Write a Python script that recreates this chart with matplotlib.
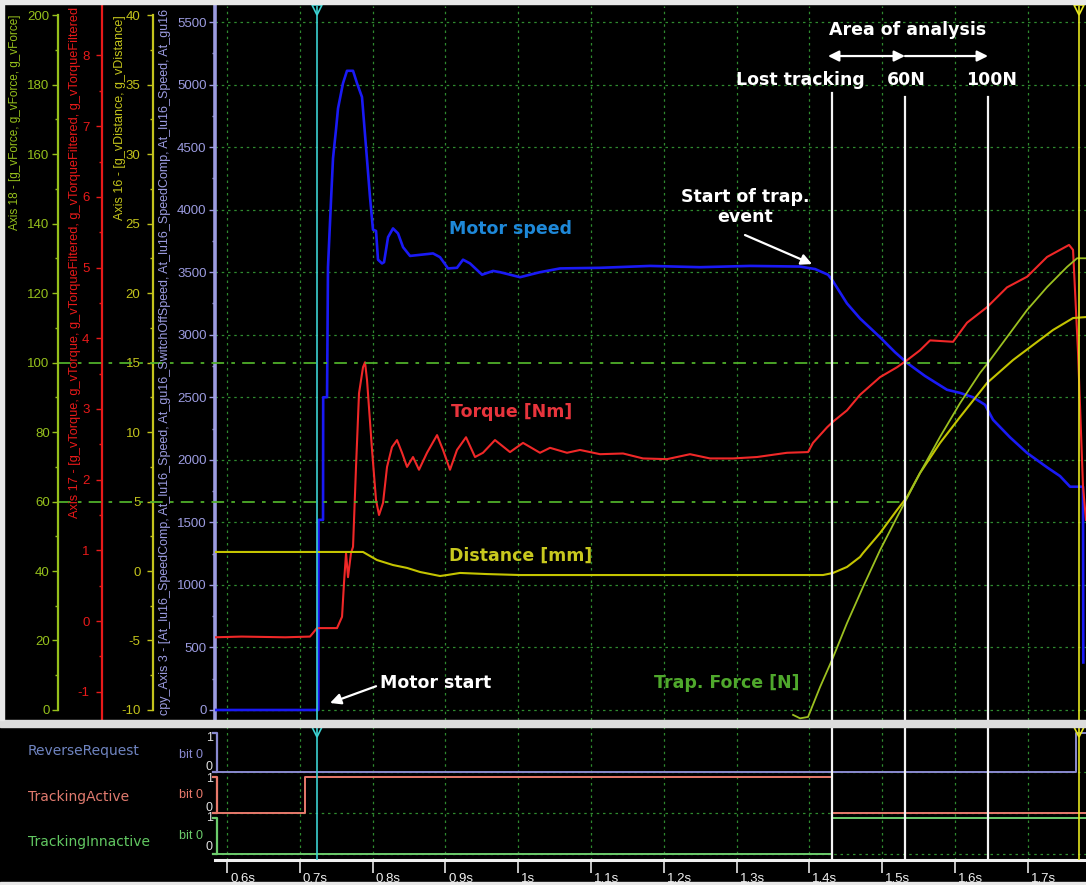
import matplotlib
matplotlib.use('Agg')
import matplotlib.pyplot as plt
import matplotlib.transforms as mtrans
from matplotlib.ticker import FixedLocator
from matplotlib.patches import Rectangle
from matplotlib.lines import Line2D

plt.rcParams['axes.unicode_minus'] = False

# ---------------- data ----------------
speed_t = [0.5835, 0.7255, 0.7257, 0.7319, 0.7321, 0.7374, 0.7387, 0.7429, 0.7456, 0.7497,
           0.7525, 0.7593, 0.7648, 0.7731, 0.7786, 0.7854, 0.7868, 0.7923, 0.7964, 0.8005,
           0.8047, 0.8074, 0.8129, 0.8157, 0.8212, 0.8280, 0.8349, 0.8418, 0.8514, 0.8830,
           0.8926, 0.9036, 0.9159, 0.9242, 0.9338, 0.9503, 0.9654, 0.9750, 1.0025, 1.0299,
           1.0574, 1.1124, 1.1810, 1.2497, 1.3184, 1.3871, 1.4077, 1.4255, 1.4310, 1.4516,
           1.4695, 1.4970, 1.5176, 1.5341, 1.5588, 1.5890, 1.6069, 1.6247, 1.6412, 1.6522,
           1.6755, 1.6989, 1.7264, 1.7442, 1.7580, 1.7717, 1.7758, 1.7762]
speed_v = [0, 0, 1520, 1520, 2500, 2500, 3540, 4080, 4410, 4640,
           4810, 5010, 5110, 5110, 5010, 4900, 4800, 4400, 4100, 3840,
           3830, 3600, 3570, 3580, 3780, 3850, 3810, 3700, 3630, 3650,
           3620, 3530, 3535, 3600, 3570, 3480, 3510, 3500, 3460, 3500,
           3530, 3535, 3550, 3540, 3550, 3545, 3525, 3480, 3440, 3250,
           3130, 2980, 2860, 2775, 2670, 2560, 2535, 2500, 2440, 2320,
           2180, 2055, 1940, 1870, 1785, 1785, 1785, 380]

torque_t = [0.5835, 0.6200, 0.6800, 0.7140, 0.7236, 0.7277, 0.7511, 0.7580, 0.7607, 0.7635,
            0.7662, 0.7703, 0.7731, 0.7772, 0.7813, 0.7868, 0.7896, 0.7923, 0.7992, 0.8047,
            0.8088, 0.8143, 0.8198, 0.8266, 0.8335, 0.8404, 0.8473, 0.8555, 0.8637, 0.8747,
            0.8885, 0.8967, 0.9063, 0.9159, 0.9283, 0.9407, 0.9516, 0.9681, 0.9887, 1.0066,
            1.0299, 1.0437, 1.0670, 1.0849, 1.1124, 1.1440, 1.1714, 1.2044, 1.2360, 1.2635,
            1.2951, 1.3280, 1.3692, 1.3981, 1.4049, 1.4242, 1.4324, 1.4516, 1.4695, 1.4970,
            1.5203, 1.5341, 1.5519, 1.5657, 1.5973, 1.6165, 1.6440, 1.6714, 1.6989, 1.7264,
            1.7566, 1.7621, 1.7690, 1.7758, 1.7799]
torque_v = [-0.23, -0.22, -0.23, -0.22, -0.10, -0.10, -0.10, 0.06, 0.54, 0.96,
            0.62, 0.96, 1.05, 2.18, 3.22, 3.59, 3.66, 3.41, 2.42, 1.71,
            1.50, 1.67, 2.18, 2.46, 2.56, 2.38, 2.18, 2.32, 2.14, 2.38,
            2.63, 2.42, 2.14, 2.42, 2.60, 2.32, 2.38, 2.56, 2.39, 2.52,
            2.38, 2.45, 2.38, 2.42, 2.36, 2.37, 2.30, 2.29, 2.36, 2.30,
            2.30, 2.32, 2.38, 2.39, 2.52, 2.74, 2.82, 2.98, 3.20, 3.45,
            3.59, 3.69, 3.83, 3.97, 3.95, 4.22, 4.44, 4.72, 4.87, 5.15,
            5.32, 5.25, 3.79, 1.90, 1.43]

distance_t = [0.5835, 0.7868, 0.8060, 0.8280, 0.8473, 0.8651, 0.8926, 0.9022, 0.9201, 0.9571,
              1.0025, 1.4187, 1.4324, 1.4516, 1.4695, 1.4736, 1.4970, 1.5203, 1.5341, 1.5519,
              1.5794, 1.6069, 1.6440, 1.6797, 1.7071, 1.7346, 1.7621, 1.7799]
distance_v = [1.37, 1.37, 0.79, 0.43, 0.22, -0.07, -0.36, -0.29, -0.14, -0.22,
              -0.29, -0.29, -0.14, 0.29, 1.01, 1.29, 2.73, 4.39, 5.32, 7.05,
              9.21, 11.08, 13.53, 15.18, 16.26, 17.34, 18.20, 18.27]

force_t = [1.3775, 1.3871, 1.3981, 1.4146, 1.4310, 1.4516, 1.4736, 1.4970, 1.5203, 1.5313,
           1.5519, 1.5794, 1.6069, 1.6343, 1.6453, 1.6714, 1.6989, 1.7264, 1.7538, 1.7676, 1.7799]
force_v = [-1.4, -2.4, -2.0, 6.6, 14.4, 25.0, 35.4, 46.0, 55.5, 59.9,
           68.2, 78.6, 88.3, 97.0, 99.9, 107.3, 115.1, 121.7, 127.5, 130.0, 130.0]

time_ticks = [0.6, 0.7, 0.8, 0.9, 1.0, 1.1, 1.2, 1.3, 1.4, 1.5, 1.6, 1.7]
time_labels = ['0.6s', '0.7s', '0.8s', '0.9s', '1s', '1.1s', '1.2s', '1.3s', '1.4s', '1.5s', '1.6s', '1.7s']
speed_ticks = [0, 500, 1000, 1500, 2000, 2500, 3000, 3500, 4000, 4500, 5000, 5500]
torque_ticks = [-1, 0, 1, 2, 3, 4, 5, 6, 7, 8]
distance_ticks = [-10, -5, 0, 5, 10, 15, 20, 25, 30, 35, 40]
force_ticks = [0, 20, 40, 60, 80, 100, 120, 140, 160, 180, 200]
force_thresholds = [60, 100]
threshold_end_times = [1.5313, 1.6453]

marker_times = [1.4310, 1.5313, 1.6453]
marker_labels = ['Lost tracking', '60N', '100N']
cursor_start = 0.7236
cursor_end = 1.7703

lane_names = ['ReverseRequest', 'TrackingActive', 'TrackingInnactive']
reverse_t = [0.5835, 1.7662, 1.7799]
reverse_v = [0, 1, 1]
active_t = [0.5835, 0.7071, 1.4310, 1.7799]
active_v = [0, 1, 0, 0]
inactive_t = [0.5835, 1.4310, 1.7799]
inactive_v = [0, 1, 1]

# ---------------- layout helpers ----------------
W, H = 1086, 885
def fx(px):
    return px / W
def fy(py):
    return 1 - py / H

BG = 'black'
C_SPEED_AX = '#9c9ce0'
C_TORQUE_AX = '#e81a1a'
C_DIST_AX = '#c4c41c'
C_FORCE_AX = '#96c01c'
C_GRID = '#2f8a2f'
TICKFONT = 'Liberation Sans'

fig = plt.figure(figsize=(W / 100, H / 100), dpi=100, facecolor=BG)

XLIM = (0.5835, 1.7799)
ax = fig.add_axes([fx(215), fy(720), fx(1086) - fx(215), fy(6) - fy(720)])
ax.set_facecolor(BG)
ax.set_xlim(*XLIM)
ax.set_ylim(-80, 5628)

ax_t = ax.twinx()
ax_d = ax.twinx()
ax_f = ax.twinx()
ax_t.set_ylim(-1.40, 8.70)
ax_d.set_ylim(-10.72, 40.65)
ax_f.set_ylim(-2.88, 202.6)

ax_width_px = 871.0

def style_axis(a, pos_px, color, ticks, bounds, lw=1.6):
    for s in a.spines.values():
        s.set_visible(False)
    sp = a.spines['left']
    sp.set_visible(True)
    if pos_px != 215:
        sp.set_position(('axes', (pos_px - 215) / ax_width_px))
    sp.set_color(color)
    sp.set_linewidth(lw)
    if bounds is not None:
        sp.set_bounds(*bounds)
    a.yaxis.set_ticks_position('left')
    a.yaxis.set_major_locator(FixedLocator(ticks))
    step = ticks[1] - ticks[0]
    minors = [v + step / 2 for v in ticks[:-1]]
    a.yaxis.set_minor_locator(FixedLocator(minors))
    a.tick_params(axis='y', which='major', direction='out', length=4, width=1, colors=color,
                  labelsize=9.5, pad=2)
    a.tick_params(axis='y', which='minor', direction='out', length=2.5, width=1, colors=color)
    for lab in a.get_yticklabels():
        lab.set_fontfamily(TICKFONT)
    a.tick_params(axis='x', which='both', bottom=False, top=False, labelbottom=False, labeltop=False)

style_axis(ax, 215, C_SPEED_AX, speed_ticks, None, lw=2.6)
style_axis(ax_t, 102, C_TORQUE_AX, torque_ticks, None)
style_axis(ax_d, 153, C_DIST_AX, distance_ticks, (-10, 40))
style_axis(ax_f, 58, C_FORCE_AX, force_ticks, (0, 200))
ax_d.tick_params(axis='y', which='major', pad=5)
ax_t.tick_params(axis='y', which='major', pad=5)

ax.set_xticks(time_ticks)
ax.tick_params(axis='x', length=0, labelbottom=False)
ax.grid(True, color=C_GRID, linestyle=(0, (2, 3)), linewidth=0.9)
ax.set_axisbelow(True)

# thresholds (dash-dot) from force axis to marker lines
x_force_axis = XLIM[0] + (58 - 215) / ax_width_px * (XLIM[1] - XLIM[0])
for thr, tend in zip(force_thresholds, threshold_end_times):
    ax_f.plot([x_force_axis, tend], [thr, thr], color='#4fae2a', lw=1.3,
              linestyle=(0, (7, 4, 2, 4)), clip_on=False, zorder=1)

# data curves
ax.plot(speed_t, speed_v, color='#1a1af5', lw=1.9, zorder=3)
ax_t.plot(torque_t, torque_v, color='#f02828', lw=1.5, zorder=3)
ax_d.plot(distance_t, distance_v, color='#c4c400', lw=1.5, zorder=3)
ax_f.plot(force_t, force_v, color='#9cc020', lw=1.3, zorder=3)

ov = ax_f
TS = ax.transData
top_blend = mtrans.blended_transform_factory(ax.transData, ax.transAxes)

# marker lines
for t, ymax in zip(marker_times, [0.878, 0.8725, 0.8725]):
    ov.axvline(t, ymin=0, ymax=ymax, color='#f4f4f4', lw=1.6, zorder=6)
# cursors
ov.axvline(cursor_start, color='#3cd2d2', lw=1.2, zorder=5)
ov.axvline(cursor_end, color='#e6e61e', lw=1.2, zorder=5)
ov.plot([cursor_start], [0.9944], marker='v', ms=7, mfc='none', mec='#3cd2d2', mew=1.2,
        transform=top_blend, clip_on=False, zorder=7)
ov.plot([cursor_end], [0.9944], marker='v', ms=7, mfc='none', mec='#e6e61e', mew=1.2,
        transform=top_blend, clip_on=False, zorder=7)

# annotations
AF = dict(family='DejaVu Sans', weight='bold', size=12.5)
ov.text(1.5354, 5436, 'Area of analysis', transform=TS, ha='center', va='center', color='white', zorder=8, **AF)
ov.annotate('', xy=(1.4255, 5228), xytext=(1.5313, 5228), xycoords=TS, textcoords=TS,
            arrowprops=dict(arrowstyle='<|-|>', color='white', lw=1.6, mutation_scale=16,
                            shrinkA=0, shrinkB=0), zorder=8)
ov.annotate('', xy=(1.6453, 5228), xytext=(1.5313, 5228), xycoords=TS, textcoords=TS,
            arrowprops=dict(arrowstyle='-|>', color='white', lw=1.6, mutation_scale=16,
                            shrinkA=0, shrinkB=0), zorder=8)
for lbl, xc in zip(marker_labels, [1.3871, 1.5327, 1.6495]):
    ov.text(xc, 5036, lbl, transform=TS, ha='center', va='center', color='white', zorder=8, **AF)

ov.text(1.3115, 4021, 'Start of trap.\nevent', transform=TS, ha='center', va='center',
        color='white', linespacing=1.15, zorder=8, **AF)
ov.annotate('', xy=(1.4036, 3565), xytext=(1.3115, 3797), xycoords=TS, textcoords=TS,
            arrowprops=dict(arrowstyle='-|>', color='white', lw=1.6, mutation_scale=16,
                            shrinkA=0, shrinkB=0), zorder=8)
ov.text(0.8102, 216, 'Motor start', transform=TS, ha='left', va='center', color='white', zorder=8, **AF)
ov.annotate('', xy=(0.7415, 56), xytext=(0.8047, 190), xycoords=TS, textcoords=TS,
            arrowprops=dict(arrowstyle='-|>', color='white', lw=1.6, mutation_scale=16,
                            shrinkA=0, shrinkB=0), zorder=8)

ov.text(0.9049, 3845, 'Motor speed', transform=TS, ha='left', va='center', color='#1e88d8', zorder=8, **AF)
ov.text(0.9077, 2382, 'Torque [Nm]', transform=TS, ha='left', va='center', color='#e8343c', zorder=8, **AF)
ov.text(0.9049, 1231, 'Distance [mm]', transform=TS, ha='left', va='center', color='#c8c81e', zorder=8, **AF)
ov.text(1.1865, 216, 'Trap. Force [N]', transform=TS, ha='left', va='center', color='#4fa82c', zorder=8, **AF)

# rotated axis titles
LF = dict(family=TICKFONT, rotation=90)
fig.text(fx(15), fy(15), 'Axis 18 - [g_vForce, g_vForce, g_vForce]', ha='center', va='top',
         color=C_FORCE_AX, size=8.5, **LF)
fig.text(fx(75), fy(7), 'Axis 17 - [g_vTorque, g_vTorque, g_vTorqueFiltered, '
         'g_vTorqueFiltered, g_vTorqueFiltered',
         ha='center', va='top', color=C_TORQUE_AX, size=9.2, **LF)
fig.text(fx(120), fy(15), 'Axis 16 - [g_vDistance, g_vDistance]', ha='center', va='top',
         color=C_DIST_AX, size=9, **LF)
fig.text(fx(165), fy(362), 'cpy_Axis 3 - [At_lu16_SpeedComp, At_lu16_Speed, At_gu16_SwitchOffSpeed, '
         'At_lu16_SpeedComp, At_lu16_Speed, At_gu16', ha='center', va='center',
         color=C_SPEED_AX, size=9, **LF)

# ---------------- digital panel ----------------
ax2 = fig.add_axes([fx(215), fy(860), fx(1086) - fx(215), fy(727) - fy(860)])
ax2.set_facecolor(BG)
ax2.set_xlim(*XLIM)
ax2.set_ylim(0, 133)
for s in ax2.spines.values():
    s.set_visible(False)
ax2.spines['bottom'].set_visible(True)
ax2.spines['bottom'].set_color('#f0f0f0')
ax2.spines['bottom'].set_linewidth(2.2)
ax2.set_yticks([])
ax2.set_xticks(time_ticks)
ax2.set_xticklabels(time_labels, fontsize=9.5, family=TICKFONT, color='#f0f0f0')
ax2.tick_params(axis='x', direction='out', length=9, width=1.2, color='#e6e6e6', pad=0)
offset = mtrans.ScaledTranslation(3 / 100, 0, fig.dpi_scale_trans)
for lab in ax2.get_xticklabels():
    lab.set_horizontalalignment('left')
    lab.set_transform(lab.get_transform() + offset)
ax2.grid(True, axis='x', color=C_GRID, linestyle=(0, (2, 3)), linewidth=0.9)
ax2.set_axisbelow(True)

lane_base = [88, 47, 6]
lane_height = [39, 36, 36]
lane_colors = ['#8a8ad0', '#e87a6c', '#6ccc6c']
lane_text_colors = ['#6f84c0', '#e07a6e', '#62c862']
lane_series = [(reverse_t, reverse_v), (active_t, active_v), (inactive_t, inactive_v)]
for base, hgt, col, (ts, vs) in zip(lane_base, lane_height, lane_colors, lane_series):
    ax2.axhline(base, color=C_GRID, linestyle=(0, (2, 3)), linewidth=0.9, zorder=1)
    ax2.step(ts, [base + v * hgt for v in vs], where='post', color=col, lw=1.4, zorder=3)

for t in marker_times:
    ax2.axvline(t, color='#f4f4f4', lw=1.6, zorder=6)
ax2.axvline(cursor_start, color='#3cd2d2', lw=1.2, zorder=5)
ax2.axvline(cursor_end, color='#e6e61e', lw=1.2, zorder=5)
ax2.plot([cursor_start], [128], marker='v', ms=7, mfc='none', mec='#3cd2d2', mew=1.2, clip_on=False, zorder=7)
ax2.plot([cursor_end], [128], marker='v', ms=7, mfc='none', mec='#e6e61e', mew=1.2, clip_on=False, zorder=7)

# lane labels and brackets
lane_label_y = [751, 797, 842]
bit_y = [755, 795, 836]
one_y = [738, 779, 818]
zero_y = [767, 808, 847]
brk = mtrans.blended_transform_factory(fig.transFigure, ax2.transData)
for i in range(3):
    fig.text(fx(28), fy(lane_label_y[i]), lane_names[i], ha='left', va='center',
             color=lane_text_colors[i], family='DejaVu Sans', size=10)
    fig.text(fx(191), fy(bit_y[i]), 'bit 0', ha='center', va='center', color=lane_colors[i],
             family=TICKFONT, size=9)
    fig.text(fx(210), fy(one_y[i]), '1', ha='center', va='center', color='#e0e0e0', family=TICKFONT, size=9)
    fig.text(fx(209), fy(zero_y[i]), '0', ha='center', va='center', color='#e0e0e0', family=TICKFONT, size=9)
    b0, b1 = lane_base[i], lane_base[i] + lane_height[i]
    fig.add_artist(Line2D([fx(213), fx(217), fx(217), fx(213)], [b1, b1, b0, b0],
                          transform=brk, color=lane_colors[i], lw=1.6))

# frame decorations
fig.add_artist(Rectangle((0, fy(727)), 1, fy(720) - fy(727), transform=fig.transFigure,
                         color='#dcdcdc'))
fig.add_artist(Rectangle((0, fy(4)), 1, 1 - fy(4), transform=fig.transFigure, color='#e8e8e8'))
fig.add_artist(Rectangle((0, fy(720)), fx(4), fy(0) - fy(720), transform=fig.transFigure, color='#e8e8e8'))
fig.add_artist(Rectangle((0, 0), 1, fy(882), transform=fig.transFigure, color='#e8e8e8'))

fig.savefig('out.png', dpi=100, facecolor=BG)
